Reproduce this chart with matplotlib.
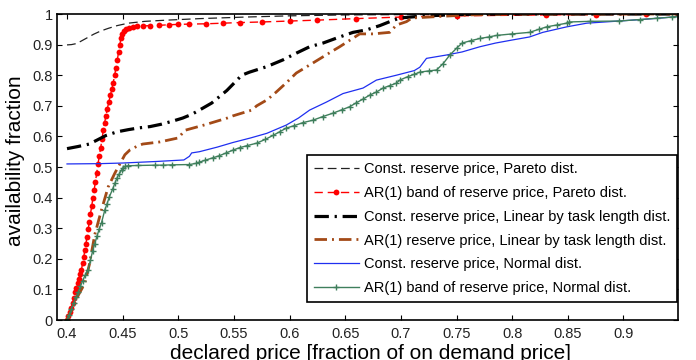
import matplotlib
matplotlib.use("Agg")
import matplotlib.pyplot as plt

plt.rcParams["font.family"] = ["Liberation Sans", "DejaVu Sans"]

# --- data ---
# Const. reserve price, Pareto dist.
const_pareto_x = [0.400, 0.404, 0.408, 0.412, 0.418, 0.424, 0.430, 0.437, 0.445, 0.455,
                  0.470, 0.490, 0.520, 0.560, 0.600, 0.650, 0.700, 0.800, 0.900, 0.949]
const_pareto_y = [0.899, 0.900, 0.903, 0.910, 0.922, 0.934, 0.944, 0.953, 0.962, 0.970,
                  0.976, 0.980, 0.985, 0.990, 0.994, 0.997, 0.998, 0.999, 1.000, 1.000]

# AR(1) band of reserve price, Pareto dist.
ar_pareto_x = [0.4000, 0.4012, 0.4025, 0.4037, 0.4050, 0.4062, 0.4073, 0.4085, 0.4096, 0.4108,
               0.4120, 0.4130, 0.4140, 0.4150, 0.4160, 0.4170, 0.4180, 0.4190, 0.4200, 0.4210,
               0.4222, 0.4233, 0.4244, 0.4255, 0.4267, 0.4278, 0.4290, 0.4302, 0.4314, 0.4326,
               0.4338, 0.4350, 0.4362, 0.4375, 0.4390, 0.4403, 0.4415, 0.4428, 0.4440, 0.4452,
               0.4463, 0.4474, 0.4485, 0.4498, 0.4512, 0.4530, 0.4555, 0.4590, 0.4630, 0.4680,
               0.4750, 0.4830, 0.4920, 0.5000, 0.5100, 0.5250, 0.5400, 0.5550, 0.5750, 0.6000,
               0.6250, 0.6600, 0.7000, 0.7500, 0.8300, 0.8750, 0.9200, 0.9490]
ar_pareto_y = [0.000, 0.012, 0.025, 0.040, 0.055, 0.072, 0.090, 0.105, 0.120, 0.135,
               0.150, 0.165, 0.185, 0.205, 0.228, 0.250, 0.272, 0.297, 0.320, 0.345,
               0.372, 0.400, 0.425, 0.452, 0.480, 0.510, 0.535, 0.562, 0.590, 0.620,
               0.645, 0.668, 0.690, 0.712, 0.735, 0.755, 0.775, 0.800, 0.825, 0.850,
               0.875, 0.900, 0.920, 0.935, 0.945, 0.951, 0.955, 0.958, 0.960, 0.961,
               0.962, 0.963, 0.965, 0.966, 0.967, 0.968, 0.970, 0.972, 0.974, 0.977,
               0.980, 0.985, 0.990, 0.994, 0.997, 0.998, 0.999, 1.000]

# Const. reserve price, Linear by task length dist.
const_linear_x = [0.400, 0.410, 0.420, 0.427, 0.435, 0.445, 0.455, 0.465, 0.4745, 0.485,
                  0.495, 0.504, 0.512, 0.519, 0.530, 0.5436, 0.549, 0.557, 0.564, 0.5795,
                  0.594, 0.606, 0.618, 0.630, 0.645, 0.657, 0.669, 0.681, 0.690, 0.699,
                  0.715, 0.735, 0.760, 0.800, 0.949]
const_linear_y = [0.560, 0.567, 0.575, 0.588, 0.603, 0.615, 0.622, 0.628, 0.632, 0.640,
                  0.650, 0.660, 0.672, 0.686, 0.709, 0.750, 0.770, 0.800, 0.810, 0.828,
                  0.850, 0.872, 0.893, 0.905, 0.925, 0.940, 0.948, 0.962, 0.975, 0.987,
                  0.992, 0.996, 0.999, 1.000, 1.000]

# AR(1) reserve price, Linear by task length dist.
ar_linear_x = [0.400, 0.405, 0.410, 0.416, 0.420, 0.425, 0.431, 0.437, 0.443, 0.449,
               0.452, 0.4566, 0.463, 0.468, 0.4835, 0.500, 0.506, 0.524, 0.544, 0.549,
               0.566, 0.5705, 0.580, 0.588, 0.597, 0.606, 0.621, 0.639, 0.645, 0.663,
               0.675, 0.690, 0.696, 0.705, 0.710, 0.735, 0.760, 0.800, 0.949]
ar_linear_y = [0.000, 0.040, 0.080, 0.120, 0.180, 0.280, 0.360, 0.435, 0.480, 0.520,
               0.540, 0.556, 0.568, 0.575, 0.582, 0.595, 0.620, 0.638, 0.660, 0.667,
               0.686, 0.700, 0.720, 0.745, 0.775, 0.807, 0.840, 0.880, 0.893, 0.935,
               0.935, 0.940, 0.964, 0.975, 0.987, 0.992, 0.997, 1.000, 1.000]

# Const. reserve price, Normal dist.
const_normal_x = [0.400, 0.430, 0.450, 0.480, 0.505, 0.510, 0.512, 0.519, 0.535, 0.549,
                  0.565, 0.5795, 0.597, 0.608, 0.618, 0.633, 0.648, 0.666, 0.678, 0.696,
                  0.712, 0.717, 0.723, 0.741, 0.755, 0.771, 0.785, 0.800, 0.8156, 0.8275,
                  0.849, 0.867, 0.896, 0.920, 0.944, 0.949]
const_normal_y = [0.510, 0.511, 0.513, 0.518, 0.523, 0.535, 0.546, 0.550, 0.565, 0.580,
                  0.595, 0.610, 0.637, 0.660, 0.686, 0.712, 0.740, 0.758, 0.784, 0.800,
                  0.815, 0.826, 0.855, 0.866, 0.876, 0.893, 0.905, 0.915, 0.925, 0.940,
                  0.958, 0.970, 0.977, 0.983, 0.990, 0.992]

# AR(1) band of reserve price, Normal dist.
ar_normal_x = [0.400, 0.402, 0.404, 0.406, 0.408, 0.410, 0.412, 0.414, 0.4165, 0.419,
               0.421, 0.423, 0.425, 0.427, 0.429, 0.431, 0.434, 0.436, 0.438, 0.441,
               0.443, 0.445, 0.447, 0.449, 0.4503, 0.452, 0.455, 0.464, 0.479, 0.486,
               0.494, 0.510, 0.516, 0.519, 0.524, 0.531, 0.537, 0.543, 0.549, 0.555,
               0.562, 0.5705, 0.578, 0.585, 0.591, 0.597, 0.604, 0.612, 0.621, 0.630,
               0.639, 0.647, 0.654, 0.660, 0.666, 0.672, 0.678, 0.684, 0.690, 0.696,
               0.699, 0.706, 0.712, 0.717, 0.725, 0.732, 0.738, 0.744, 0.750, 0.755,
               0.763, 0.771, 0.779, 0.786, 0.800, 0.8156, 0.824, 0.831, 0.840, 0.849,
               0.8515, 0.870, 0.896, 0.915, 0.930, 0.944, 0.949]
ar_normal_y = [0.000, 0.015, 0.035, 0.055, 0.075, 0.090, 0.110, 0.128, 0.148, 0.165,
               0.195, 0.225, 0.250, 0.275, 0.298, 0.318, 0.360, 0.380, 0.402, 0.428,
               0.447, 0.465, 0.478, 0.490, 0.497, 0.502, 0.504, 0.505, 0.506, 0.506,
               0.507, 0.508, 0.512, 0.516, 0.522, 0.530, 0.537, 0.546, 0.555, 0.563,
               0.570, 0.578, 0.590, 0.603, 0.615, 0.627, 0.635, 0.645, 0.653, 0.665,
               0.676, 0.687, 0.697, 0.710, 0.722, 0.735, 0.745, 0.758, 0.766, 0.774,
               0.784, 0.795, 0.803, 0.810, 0.814, 0.817, 0.838, 0.866, 0.888, 0.905,
               0.913, 0.920, 0.925, 0.930, 0.935, 0.940, 0.950, 0.958, 0.964, 0.970,
               0.974, 0.976, 0.977, 0.982, 0.986, 0.990, 0.992]

labels = [
    "Const. reserve price, Pareto dist.",
    "AR(1) band of reserve price, Pareto dist.",
    "Const. reserve price, Linear by task length dist.",
    "AR(1) reserve price, Linear by task length dist.",
    "Const. reserve price, Normal dist.",
    "AR(1) band of reserve price, Normal dist.",
]

x_ticks = [0.4, 0.45, 0.5, 0.55, 0.6, 0.65, 0.7, 0.75, 0.8, 0.85, 0.9]
x_tick_labels = ["0.4", "0.45", "0.5", "0.55", "0.6", "0.65", "0.7", "0.75", "0.8", "0.85", "0.9"]
y_ticks = [0, 0.1, 0.2, 0.3, 0.4, 0.5, 0.6, 0.7, 0.8, 0.9, 1]
y_tick_labels = ["0", "0.1", "0.2", "0.3", "0.4", "0.5", "0.6", "0.7", "0.8", "0.9", "1"]

fig = plt.figure(figsize=(6.96, 3.6), dpi=100)
ax = fig.add_axes([57 / 696, 40 / 360, 621 / 696, 306 / 360])

ax.plot(const_pareto_x, const_pareto_y, color="#222222", lw=0.9,
        linestyle=(0, (7, 3.6)), label=labels[0])
ax.plot(ar_pareto_x, ar_pareto_y, color="#ff0000", lw=1.0,
        linestyle=(0, (6, 3.5)), marker="o", ms=4.2, mec="none", label=labels[1])
ax.plot(const_linear_x, const_linear_y, color="black", lw=2.3,
        linestyle=(0, (4.5, 1.8, 0.7, 1.8)), label=labels[2])
ax.plot(ar_linear_x, ar_linear_y, color="#a34a17", lw=2.0,
        linestyle=(0, (4.5, 1.8, 0.7, 1.8)), label=labels[3])
ax.plot(const_normal_x, const_normal_y, color="#1f2ff0", lw=0.9, label=labels[4])
ax.plot(ar_normal_x, ar_normal_y, color="#3f7f5c", lw=1.0,
        marker="+", ms=4.5, mew=1.0, label=labels[5])

ax.set_xlim(0.391, 0.949)
ax.set_ylim(0, 1)
ax.set_xticks(x_ticks)
ax.set_xticklabels(x_tick_labels)
ax.set_yticks(y_ticks)
ax.set_yticklabels(y_tick_labels)
ax.tick_params(direction="in", length=3.6, width=0.8, top=True, right=True,
               labelsize=10.5, labelcolor="#222222")
ax.tick_params(axis="x", pad=5)
ax.tick_params(axis="y", pad=3)
for sp in ax.spines.values():
    sp.set_linewidth(1.2)

# label sits low, just like the reference where it runs off the bottom edge
ax.set_xlabel("declared price [fraction of on demand price]", fontsize=15, va="top")
ax.xaxis.set_label_coords(0.505, -0.079)
ax.set_ylabel("availability fraction", fontsize=15, va="center")
ax.yaxis.set_label_coords(-0.067, 0.52)

leg = ax.legend(loc="lower right", bbox_to_anchor=(0.998, 0.059), borderaxespad=0,
                fontsize=10.5, handlelength=3.1, handletextpad=0.35,
                labelspacing=0.68, borderpad=0.45, fancybox=False, framealpha=1)
leg.get_frame().set_edgecolor("black")
leg.get_frame().set_linewidth(1.2)

fig.savefig("out.png", dpi=100)
